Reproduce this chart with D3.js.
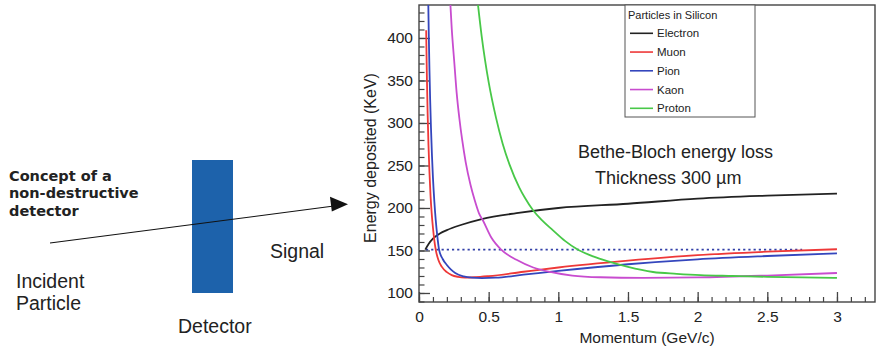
<!DOCTYPE html>
<html>
<head>
<meta charset="utf-8">
<script src="https://cdn.jsdelivr.net/npm/d3@7"></script>
<style>
  body { margin: 0; background: #fff; }
  text { font-family: "Liberation Sans", Arial, sans-serif; fill: #222; }
</style>
</head>
<body>
<svg id="chart" width="877" height="350"></svg>
<script>
// momentum (GeV/c) and deposited energy (keV)
const electronP = [0.045, 0.07, 0.1, 0.15, 0.2, 0.3, 0.45, 0.7, 1.0, 1.5, 2.0, 2.5, 3.0];
const electronE = [151, 158, 164, 170, 174, 180, 187, 194, 200, 205, 211, 214.5, 217];

const muonP = [0.0515, 0.053, 0.057, 0.062, 0.068, 0.075, 0.083, 0.091, 0.1, 0.11, 0.12, 0.14, 0.163, 0.2, 0.235, 0.28, 0.33, 0.4, 0.5, 0.75, 1.0, 1.5, 2.0, 2.5, 3.0];
const muonE = [409, 391, 351, 311, 274, 242, 214, 194, 177, 162, 151, 138.6, 131, 124.5, 121, 119, 118.2, 118.5, 119.8, 125, 130, 138, 144.5, 148.6, 151.5];

const pionP = [0.066, 0.07, 0.075, 0.08, 0.086, 0.093, 0.1, 0.11, 0.12, 0.132, 0.144, 0.17, 0.2, 0.23, 0.26, 0.32, 0.38, 0.45, 0.55, 0.75, 1.0, 1.5, 2.0, 2.5, 3.0];
const pionE = [448, 406, 363, 328, 294, 262, 236, 208, 186, 166, 151, 140, 133, 127.5, 123.5, 119.5, 118, 117.6, 118, 121.5, 126, 133.8, 139.6, 143.5, 146.7];

const kaonP = [0.22, 0.235, 0.253, 0.27, 0.29, 0.31, 0.335, 0.37, 0.4, 0.43, 0.46, 0.52, 0.59, 0.7, 0.82, 0.95, 1.1, 1.3, 1.6, 2.0, 2.5, 3.0];
const kaonE = [455, 411, 372, 336, 305, 280, 254, 227, 209, 194, 185, 165, 151, 139, 130, 124.5, 120.5, 118.5, 117.8, 118.3, 120.5, 123.5];

const protonP = [0.42, 0.45, 0.474, 0.5, 0.553, 0.6, 0.65, 0.72, 0.76, 0.82, 0.88, 0.96, 1.05, 1.13, 1.25, 1.37, 1.5, 1.68, 1.85, 2.02, 2.25, 2.5, 2.75, 3.0];
const protonE = [444, 402, 374, 348, 306, 276, 251, 224, 212, 197, 186, 174, 161, 152, 143, 136.5, 130.6, 124.7, 122.6, 121, 120, 119, 118.3, 117.8];

const thresholdP = [0.05, 2.75];
const thresholdE = [151, 151];

const seriesNames = ["Electron", "Muon", "Pion", "Kaon", "Proton"];
const seriesP = [electronP, muonP, pionP, kaonP, protonP];
const seriesE = [electronE, muonE, pionE, kaonE, protonE];
const seriesColors = ["#222222", "#ee3838", "#3446bd", "#c84ccf", "#48c848"];

const xTicks = [0, 0.5, 1, 1.5, 2, 2.5, 3];
const xTickLabels = ["0", "0.5", "1", "1.5", "2", "2.5", "3"];
const yTicks = [100, 150, 200, 250, 300, 350, 400];

const svg = d3.select("#chart");

// ---------- left diagram ----------
const diagram = svg.append("g");

diagram.append("rect")
  .attr("x", 192).attr("y", 160)
  .attr("width", 41).attr("height", 133)
  .attr("fill", "#1d62ab");

diagram.append("line")
  .attr("x1", 50).attr("y1", 243)
  .attr("x2", 332).attr("y2", 206.3)
  .attr("stroke", "#111").attr("stroke-width", 1.1);

diagram.append("path")
  .attr("d", "M348,204.3 L330,196.8 L331.8,211.6 Z")
  .attr("fill", "#111");

const concept = ["Concept of a", "non-destructive", "detector"];
diagram.selectAll("text.concept")
  .data(concept)
  .enter().append("text")
  .attr("class", "concept")
  .attr("x", 9)
  .attr("y", (d, i) => 180.5 + i * 17.7)
  .style("font-family", "'DejaVu Sans', Verdana, sans-serif")
  .style("font-weight", "bold")
  .style("font-size", "14.5px")
  .text(d => d);

diagram.append("text").attr("x", 16).attr("y", 288).style("font-size", "19.5px").text("Incident");
diagram.append("text").attr("x", 16).attr("y", 310).style("font-size", "19.5px").text("Particle");
diagram.append("text").attr("x", 270).attr("y", 258).style("font-size", "19.5px").text("Signal");
diagram.append("text").attr("x", 178).attr("y", 333).style("font-size", "19.5px").text("Detector");

// ---------- plot ----------
const plotLeft = 419, plotRight = 875, plotTop = 5, plotBottom = 302;

const x = d3.scaleLinear().domain([0, 3.273]).range([plotLeft, plotRight]);
const y = d3.scaleLinear().domain([89.4, 438.8]).range([plotBottom, plotTop]);

svg.append("defs").append("clipPath").attr("id", "plotClip")
  .append("rect")
  .attr("x", plotLeft).attr("y", plotTop)
  .attr("width", plotRight - plotLeft).attr("height", plotBottom - plotTop);

// minor ticks
const yMinor = d3.range(90, 439, 10);
const xMinor = d3.range(0, 3.27, 0.1);

svg.append("g")
  .attr("transform", "translate(" + plotLeft + ",0)")
  .call(d3.axisLeft(y).tickValues(yMinor).tickSizeInner(-5.5).tickSizeOuter(0).tickFormat(""))
  .call(g => g.select(".domain").remove())
  .call(g => g.selectAll("line").attr("stroke", "#444").attr("stroke-width", 1.2));

svg.append("g")
  .attr("transform", "translate(0," + plotBottom + ")")
  .call(d3.axisBottom(x).tickValues(xMinor).tickSizeInner(-5).tickSizeOuter(0).tickFormat(""))
  .call(g => g.select(".domain").remove())
  .call(g => g.selectAll("line").attr("stroke", "#444").attr("stroke-width", 1.2));

// major ticks and labels
svg.append("g")
  .attr("transform", "translate(" + plotLeft + ",0)")
  .call(d3.axisLeft(y).tickValues(yTicks).tickSizeInner(-11).tickSizeOuter(0).tickPadding(6))
  .call(g => g.select(".domain").remove())
  .call(g => g.selectAll("line").attr("stroke", "#444").attr("stroke-width", 1.3))
  .call(g => g.selectAll("text")
    .style("font-family", "'Liberation Sans', Arial, sans-serif")
    .style("font-size", "15.5px").attr("fill", "#222"));

svg.append("g")
  .attr("transform", "translate(0," + plotBottom + ")")
  .call(d3.axisBottom(x).tickValues(xTicks).tickSizeInner(-10).tickSizeOuter(0).tickPadding(9)
    .tickFormat((d, i) => xTickLabels[i]))
  .call(g => g.select(".domain").remove())
  .call(g => g.selectAll("line").attr("stroke", "#444").attr("stroke-width", 1.3))
  .call(g => g.selectAll("text")
    .style("font-family", "'Liberation Sans', Arial, sans-serif")
    .style("font-size", "15.5px").attr("fill", "#222"));

// frame
svg.append("rect")
  .attr("x", plotLeft).attr("y", plotTop)
  .attr("width", plotRight - plotLeft).attr("height", plotBottom - plotTop)
  .attr("fill", "none").attr("stroke", "#444").attr("stroke-width", 1.4);

// axis titles
svg.append("text")
  .attr("transform", "translate(376,158) rotate(-90)")
  .attr("text-anchor", "middle")
  .style("font-size", "16px")
  .text("Energy deposited (KeV)");

svg.append("text")
  .attr("x", 647).attr("y", 343)
  .attr("text-anchor", "middle")
  .style("font-size", "15.5px")
  .text("Momentum (GeV/c)");

// curves
const line = d3.line()
  .x(d => x(d[0]))
  .y(d => y(d[1]))
  .curve(d3.curveMonotoneX);

const curves = svg.append("g").attr("clip-path", "url(#plotClip)");

curves.append("path")
  .attr("d", line(d3.zip(thresholdP, thresholdE)))
  .attr("fill", "none")
  .attr("stroke", "#3340a8")
  .attr("stroke-width", 1.8)
  .attr("stroke-dasharray", "2.2,3");

curves.selectAll("path.series")
  .data(seriesNames)
  .enter().append("path")
  .attr("class", "series")
  .attr("d", (d, i) => line(d3.zip(seriesP[i], seriesE[i])))
  .attr("fill", "none")
  .attr("stroke", (d, i) => seriesColors[i])
  .attr("stroke-width", 1.8);

// annotation
svg.append("text").attr("x", 578).attr("y", 157.5).style("font-size", "18px").text("Bethe-Bloch energy loss");
svg.append("text").attr("x", 595).attr("y", 183.5).style("font-size", "18px").text("Thickness 300 \u00b5m");

// legend
const legend = svg.append("g");
legend.append("rect")
  .attr("x", 625).attr("y", plotTop)
  .attr("width", 130).attr("height", 112)
  .attr("fill", "#fff").attr("stroke", "#555").attr("stroke-width", 1);

legend.append("text")
  .attr("x", 628).attr("y", 19)
  .style("font-size", "11px")
  .text("Particles in Silicon");

const entries = legend.selectAll("g.entry")
  .data(seriesNames)
  .enter().append("g")
  .attr("class", "entry")
  .attr("transform", (d, i) => "translate(0," + (33.3 + i * 18.75) + ")");

entries.append("line")
  .attr("x1", 630).attr("x2", 653)
  .attr("stroke", (d, i) => seriesColors[i])
  .attr("stroke-width", 1.6);

entries.append("text")
  .attr("x", 657).attr("dy", "0.36em")
  .style("font-size", "11.5px")
  .text(d => d);
</script>
</body>
</html>
